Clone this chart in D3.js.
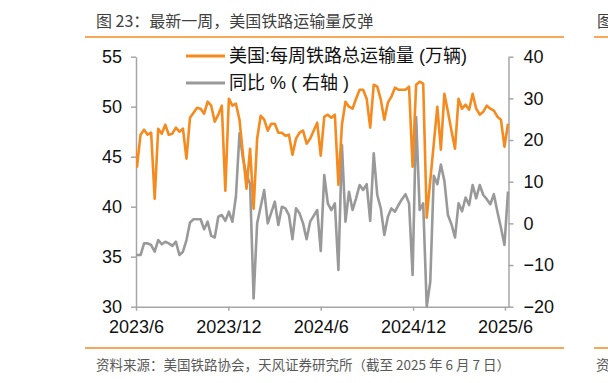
<!DOCTYPE html>
<html>
<head>
<meta charset="utf-8">
<script src="https://cdn.jsdelivr.net/npm/d3@7"></script>
<style>
  html, body { margin: 0; padding: 0; background: #fff; }
  svg { display: block; font-family: "Liberation Sans", Arial, "Noto Sans CJK SC", sans-serif; }
</style>
</head>
<body>
<svg id="chart" width="608" height="383"></svg>
<script>
// ---- data (weekly, week ending Saturday, starting 2023-05-27) ----
const startDate = "2023-05-27";
const carloads = [ // 美国:每周铁路总运输量 (万辆)
  47.8, 44.0, 47.2, 47.7, 47.2, 47.4, 40.8, 47.8, 47.3, 48.2,
  47.2, 47.3, 47.9, 47.5, 47.8, 44.8, 48.9, 49.4, 49.9, 49.8,
  49.3, 50.5, 50.1, 48.5, 49.2, 50.1, 41.6, 50.8, 50.1, 50.3,
  48.7, 45.2, 41.8, 45.8, 39.8, 46.8, 49.1, 48.7, 47.6, 48.3,
  48.3, 47.4, 47.4, 47.1, 47.2, 45.2, 46.8, 47.4, 47.6, 46.3,
  46.8, 47.6, 48.4, 45.1, 49.0, 49.2, 48.9, 49.2, 42.2, 48.2,
  50.5, 50.0, 49.8, 50.8, 51.7, 51.7, 50.8, 47.9, 52.2, 52.0,
  50.7, 48.7, 50.4, 51.0, 51.9, 51.7, 51.7, 51.7, 52.0, 44.0,
  52.2, 52.5, 52.3, 38.9, 42.6, 46.3, 50.0, 45.7, 51.3, 49.5,
  47.6, 45.8, 50.8, 49.8, 50.2, 49.7, 51.3, 49.8, 49.2, 49.5,
  50.1, 49.8, 49.6, 49.0, 48.7, 46.0, 48.3
];
const yoy = [ // 同比 %（右轴）
  -7.4, -7.6, -7.6, -4.8, -4.8, -5.2, -6.8, -4.0, -5.0, -4.4,
  -4.8, -5.4, -4.4, -7.6, -6.8, -4.0, 0.2, 1.0, 1.0, 1.0,
  -1.4, 0.4, -3.0, -3.4, 1.6, 2.0, 0.6, 2.8, 0.4, 6.5,
  21.6, 15.5, 11.5, 9.5, -18.0, 0.0, 4.0, 8.0, 0.0, 2.6,
  5.2, -0.4, 4.0, 3.6, 2.0, -3.8, 3.6, 2.4, 0.0, -3.8,
  0.4, 1.8, 3.2, -6.6, 11.6, 4.8, 3.2, 4.8, -11.2, 18.8,
  0.4, 7.6, 3.2, 6.0, 9.2, 8.0, 9.4, 0.6, 16.8, 6.8,
  3.6, -2.8, 1.6, 3.6, 2.8, 4.4, 5.8, 7.0, 4.8, -12.4,
  25.5, 3.2, 4.8, -20.0, -14.0, 11.4, 9.4, 14.1, 10.2, 2.0,
  -0.2, -3.4, 4.8, 2.9, 6.2, 4.4, 9.2, 6.0, 9.2, 6.8,
  5.8, 4.6, 7.0, 2.8, -1.0, -5.2, 7.6
];
const xTickDates = ["2023-06-01", "2023-12-01", "2024-06-01", "2024-12-01", "2025-06-01"];
const xTickLabels = ["2023/6", "2023/12", "2024/6", "2024/12", "2025/6"];
const leftTicks = [30, 35, 40, 45, 50, 55];
const rightTicks = [-20, -10, 0, 10, 20, 30, 40];
const seriesNames = ["美国:每周铁路总运输量 (万辆)", "同比 % ( 右轴 )"];
const titleText = "图 23：最新一周，美国铁路运输量反弹";
const sourceText = "资料来源：美国铁路协会，天风证券研究所（截至 2025 年 6 月 7 日）";

// ---- drawing ----
const ORANGE = "#F58A1F", GRAY = "#999999", AXIS = "#A6A6A6";
const svg = d3.select("#chart");
const parse = d3.timeParse("%Y-%m-%d");
const t0 = parse(startDate);
const dates = carloads.map((_, i) => d3.timeDay.offset(t0, 7 * i));

const plot = { left: 136, right: 508.5, top: 56.7, bottom: 306.7 };
const x = d3.scaleTime().domain([parse("2023-06-01"), parse("2025-06-08")]).range([plot.left, plot.right]);
const yL = d3.scaleLinear().domain([30, 55]).range([plot.bottom, plot.top]);
const yR = d3.scaleLinear().domain([-20, 40]).range([plot.bottom, plot.top]);

// title + frame rules
svg.append("text").attr("x", 96).attr("y", 27).attr("font-size", 16).attr("fill", "#404040")
  .attr("font-family", "'Noto Sans CJK SC', sans-serif").text(titleText);
svg.append("text").attr("x", 597).attr("y", 27).attr("font-size", 16).attr("fill", "#404040")
  .attr("font-family", "'Noto Sans CJK SC', sans-serif").text("图");
[[85, 564], [594, 612]].forEach(([a, b]) => {
  svg.append("line").attr("x1", a).attr("x2", b).attr("y1", 37).attr("y2", 37).attr("stroke", ORANGE).attr("stroke-width", 1.5);
  svg.append("line").attr("x1", a).attr("x2", b).attr("y1", 348).attr("y2", 348).attr("stroke", ORANGE).attr("stroke-width", 1.5);
});
svg.append("text").attr("x", 96).attr("y", 370).attr("font-size", 13.5).attr("fill", "#595959")
  .attr("font-family", "'Noto Sans CJK SC', sans-serif").text(sourceText);
svg.append("text").attr("x", 596).attr("y", 370).attr("font-size", 13.5).attr("fill", "#595959")
  .attr("font-family", "'Noto Sans CJK SC', sans-serif").text("资");

// axes
function styleAxis(g) {
  g.selectAll(".domain").attr("stroke", AXIS).attr("stroke-width", 1.5);
  g.selectAll(".tick line").attr("stroke", AXIS).attr("stroke-width", 1.5);
  g.selectAll(".tick text").attr("fill", "#111").attr("font-size", 18)
    .attr("font-family", "'Liberation Sans', Arial, sans-serif");
}
const gx = svg.append("g").attr("transform", `translate(0,${plot.bottom})`)
  .call(d3.axisBottom(x).tickValues(xTickDates.map(parse)).tickSize(4).tickSizeOuter(0)
    .tickFormat((d, i) => xTickLabels[i]));
styleAxis(gx);
gx.selectAll(".tick text").attr("y", 10).attr("dy", "0.9em");

const gl = svg.append("g").attr("transform", `translate(${plot.left},0)`)
  .call(d3.axisLeft(yL).tickValues(leftTicks).tickSize(5).tickSizeOuter(0).tickPadding(9));
styleAxis(gl);
const gr = svg.append("g").attr("transform", `translate(${plot.right},0)`)
  .call(d3.axisRight(yR).tickValues(rightTicks).tickSize(5).tickSizeOuter(0).tickPadding(10));
styleAxis(gr);

// clip
svg.append("clipPath").attr("id", "clip").append("rect")
  .attr("x", plot.left).attr("y", 30).attr("width", plot.right - plot.left + 2).attr("height", 290);

const lineL = d3.line().x((d, i) => x(dates[i])).y(d => yL(d));
const lineR = d3.line().x((d, i) => x(dates[i])).y(d => yR(d));
svg.append("path").datum(yoy).attr("d", lineR).attr("fill", "none").attr("stroke", GRAY)
  .attr("stroke-width", 2.6).attr("stroke-linejoin", "round").attr("clip-path", "url(#clip)");
svg.append("path").datum(carloads).attr("d", lineL).attr("fill", "none").attr("stroke", ORANGE)
  .attr("stroke-width", 2.6).attr("stroke-linejoin", "round").attr("clip-path", "url(#clip)");

// legend
const legend = [{ name: seriesNames[0], color: ORANGE, y: 56 }, { name: seriesNames[1], color: GRAY, y: 83 }];
legend.forEach(l => {
  svg.append("line").attr("x1", 186).attr("x2", 225).attr("y1", l.y).attr("y2", l.y)
    .attr("stroke", l.color).attr("stroke-width", 2.8);
  svg.append("text").attr("x", 229).attr("y", l.y).attr("dy", "0.36em").attr("font-size", 18)
    .attr("fill", "#111").text(l.name);
});
</script>
</body>
</html>
